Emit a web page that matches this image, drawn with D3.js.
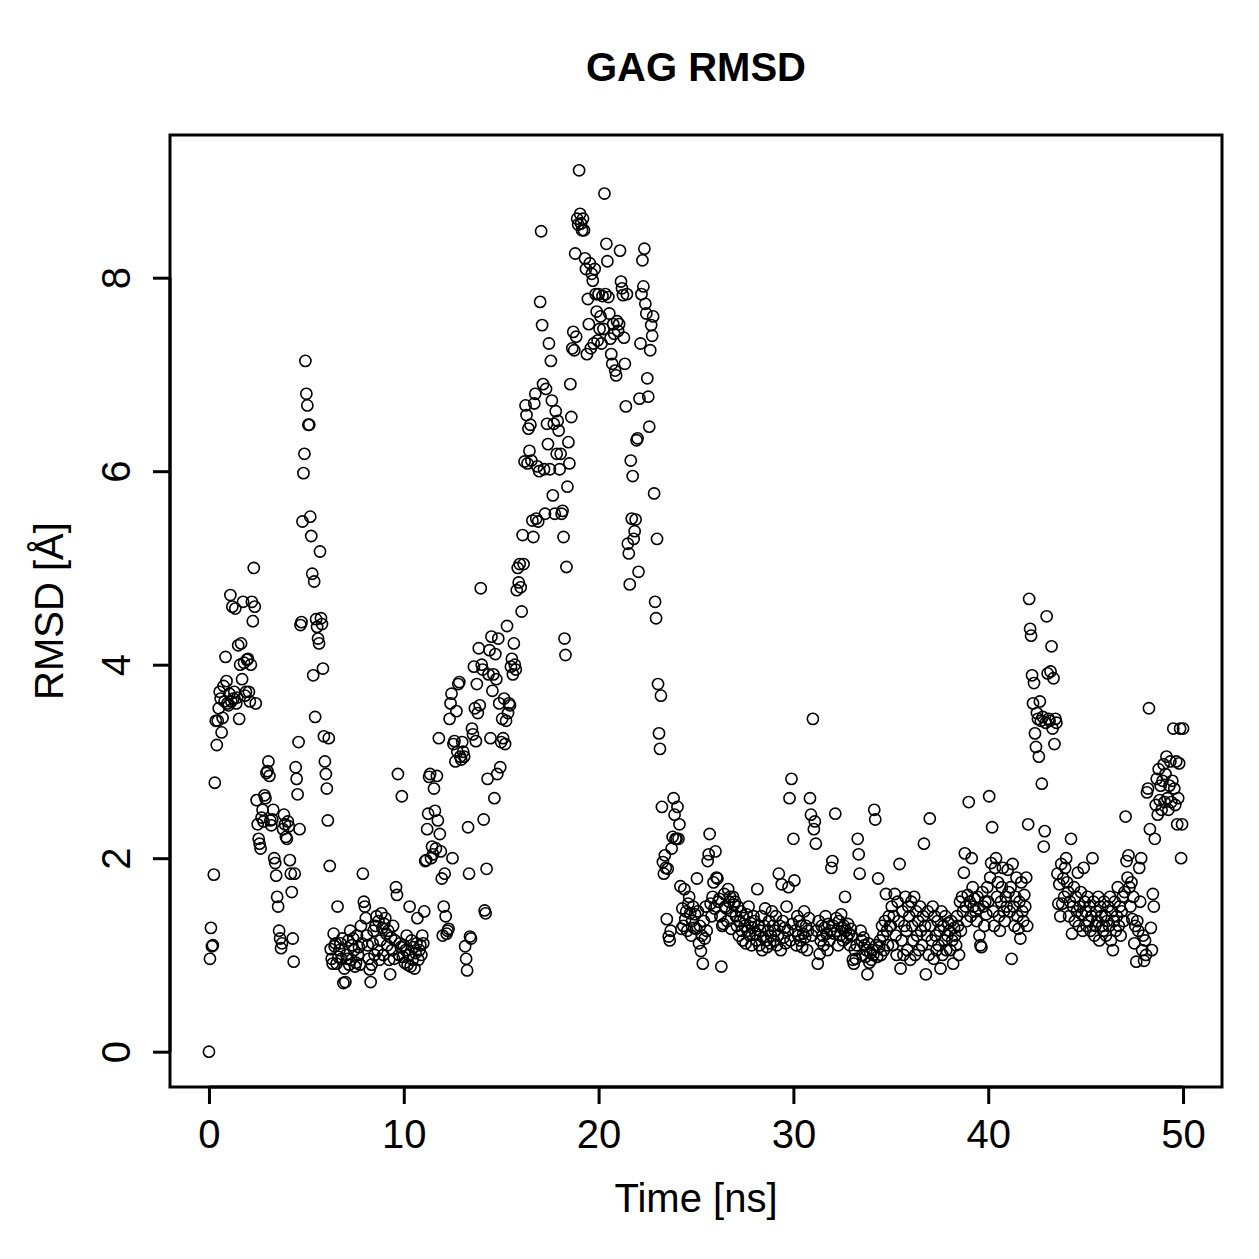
<!doctype html><html><head><meta charset="utf-8"></head><body style="margin:0;background:#fff"><script src='https://d3js.org/d3.v7.min.js'></script>

<style>
	svg text {
		fill: black;
		font-family: "Liberation Sans", Arial, sans-serif;
	}
</style>

<script>
  var timeStep = 0.05;
  var rmsd = [
    0, 0.96, 1.28, 1.09, 1.1, 1.83, 2.78, 3.42, 3.17, 3.42, 3.55, 3.72, 3.65, 3.3, 3.45, 3.78, 3.62, 4.08, 3.83, 3.6,
    3.58, 3.7, 4.72, 3.62, 4.6, 3.65, 3.72, 4.58, 3.6, 3.66, 4.2, 3.44, 4.0, 4.22, 3.85, 4.65, 4.02, 3.68, 3.72, 4.05,
    4.06, 3.72, 3.62, 4.0, 4.65, 4.45, 5.0, 4.6, 3.6, 2.6, 2.35, 2.2, 2.15, 2.1, 2.42, 2.5, 2.38, 2.65, 2.62, 2.88,
    2.9, 3.0, 2.85, 2.39, 2.34, 2.4, 2.5, 2.0, 1.95, 1.82, 1.6, 1.5, 1.25, 1.17, 1.07, 1.12, 2.3, 2.45, 2.35, 2.22,
    2.2, 2.38, 2.33, 1.98, 1.84, 1.65, 1.17, 0.93, 1.84, 2.94, 2.82, 2.66, 3.2, 2.3, 4.41, 4.44, 5.48, 5.98, 6.18, 7.14,
    6.8, 6.68, 6.48, 6.48, 5.53, 5.33, 4.94, 3.89, 4.86, 3.46, 4.47, 4.39, 4.27, 4.22, 5.17, 4.48, 4.42, 3.96, 3.26, 3.0,
    2.87, 2.72, 2.39, 3.24, 1.92, 1.06, 0.96, 0.91, 1.22, 1.09, 1.12, 0.91, 1.5, 0.98, 1.05, 1.12, 0.96, 1.17, 0.71, 0.86,
    0.72, 1.0, 0.96, 1.15, 0.9, 1.25, 0.95, 1.1, 1.17, 1.05, 0.88, 0.92, 1.2, 1.0, 1.08, 0.9, 1.3, 1.12, 1.84, 1.55,
    1.5, 1.38, 1.2, 1.1, 0.96, 0.85, 0.72, 0.9, 1.12, 1.25, 1.0, 1.3, 1.4, 1.05, 1.35, 0.95, 1.15, 1.43, 1.28, 1.0,
    1.32, 1.38, 1.22, 1.1, 1.25, 0.95, 0.8, 1.18, 1.05, 1.3, 0.96, 1.15, 1.7, 1.62, 2.87, 1.0, 1.12, 1.08, 2.64, 0.98,
    1.1, 0.92, 1.05, 1.2, 0.9, 1.0, 1.5, 0.88, 1.15, 0.95, 1.08, 0.86, 1.02, 1.12, 1.38, 0.95, 1.05, 1.1, 1.0, 1.2,
    1.12, 1.45, 1.97, 1.98, 2.3, 2.46, 2.84, 2.87, 2.0, 2.12, 2.04, 2.72, 2.49, 2.1, 2.85, 2.39, 3.24, 2.25, 2.07, 1.79,
    1.2, 1.5, 1.84, 1.4, 1.22, 1.25, 1.27, 3.44, 3.6, 3.7, 2.0, 3.18, 3.21, 3.0, 3.52, 3.1, 3.8, 3.82, 3.05, 3.02,
    3.2, 3.1, 3.05, 1.09, 0.96, 0.84, 2.32, 1.84, 1.19, 1.17, 3.34, 3.28, 3.98, 3.55, 3.21, 3.8, 3.5, 4.17, 3.58, 4.79,
    4.0, 3.95, 2.4, 1.46, 1.43, 1.89, 2.82, 3.9, 4.15, 3.24, 4.29, 3.73, 3.9, 2.62, 4.11, 3.85, 2.87, 4.27, 3.6, 2.94,
    3.2, 3.44, 3.24, 3.65, 3.18, 3.42, 4.4, 3.5, 3.6, 3.58, 3.98, 4.06, 3.9, 4.22, 4.0, 3.95, 4.77, 5.0, 4.85, 5.04,
    4.8, 4.55, 5.34, 5.04, 6.1, 6.68, 6.58, 6.08, 6.44, 6.21, 6.48, 6.11, 5.49, 5.32, 6.7, 6.8, 5.51, 6.05, 5.48, 6.0,
    7.75, 8.48, 7.51, 6.9, 6.02, 5.56, 6.85, 6.49, 6.28, 7.32, 6.02, 7.14, 6.73, 5.75, 6.49, 5.56, 6.62, 6.18, 6.52, 6.42,
    6.02, 6.18, 5.56, 5.59, 5.32, 4.27, 4.1, 5.01, 5.84, 6.3, 6.08, 6.9, 6.56, 7.27, 7.44, 7.25, 8.25, 7.39, 8.61, 8.55,
    9.11, 8.66, 8.56, 8.49, 8.61, 8.49, 8.2, 8.09, 7.21, 7.78, 7.52, 8.15, 7.27, 8.04, 7.97, 7.32, 8.09, 7.83, 7.65, 7.35,
    7.83, 7.47, 7.6, 7.32, 7.81, 7.47, 8.87, 7.83, 8.35, 8.17, 7.8, 7.63, 7.37, 7.21, 7.11, 7.52, 7.42, 7.04, 6.99, 7.55,
    7.45, 7.52, 8.28, 7.96, 7.89, 7.82, 7.38, 7.11, 6.67, 7.83, 5.25, 5.15, 4.83, 6.11, 5.51, 5.95, 5.3, 5.38, 5.5, 6.32,
    6.34, 4.96, 6.75, 7.32, 7.83, 8.18, 7.91, 8.3, 7.73, 7.63, 6.96, 6.77, 6.46, 7.25, 7.51, 7.4, 7.6, 5.77, 4.65, 4.48,
    5.3, 3.8, 3.29, 3.13, 3.68, 2.53, 1.96, 1.84, 2.03, 1.9, 1.37, 1.89, 1.19, 1.15, 1.25, 2.1, 2.22, 2.62, 2.45, 2.2,
    2.2, 2.53, 2.2, 2.35, 1.71, 1.27, 1.48, 1.3, 1.68, 1.37, 1.45, 1.25, 1.53, 1.6, 1.43, 1.2, 1.35, 1.5, 1.28, 1.42,
    1.27, 1.79, 1.45, 1.12, 1.3, 1.04, 1.2, 0.91, 1.35, 1.17, 1.5, 1.25, 1.97, 2.04, 2.25, 1.53, 1.4, 1.6, 1.75, 1.48,
    2.07, 1.8, 1.79, 1.55, 1.58, 1.4, 0.88, 1.3, 1.32, 1.63, 1.5, 1.48, 1.35, 1.68, 1.55, 1.6, 1.27, 1.45, 1.6, 1.52,
    1.55, 1.4, 1.3, 1.5, 1.2, 1.35, 1.45, 1.25, 1.15, 1.38, 1.3, 1.12, 1.42, 1.25, 1.5, 1.2, 1.33, 1.1, 1.28, 1.4,
    1.35, 1.22, 1.15, 1.68, 1.3, 1.1, 1.25, 1.4, 1.05, 1.18, 1.3, 1.48, 1.15, 1.08, 1.25, 1.35, 1.12, 1.2, 1.45, 1.3,
    1.15, 1.25, 1.4, 1.1, 1.2, 1.84, 1.3, 1.05, 1.73, 1.35, 1.18, 1.28, 1.12, 1.5, 1.25, 1.7, 2.62, 1.15, 2.82, 1.32,
    2.2, 1.77, 1.25, 1.1, 1.4, 1.2, 1.35, 1.15, 1.3, 1.08, 1.22, 1.45, 1.18, 1.3, 1.05, 1.25, 1.38, 2.62, 2.45, 1.2,
    3.44, 2.3, 2.38, 2.15, 1.25, 0.91, 1.35, 1.01, 1.15, 1.3, 1.2, 1.1, 1.28, 1.4, 1.22, 1.05, 1.32, 1.15, 1.25, 1.9,
    1.97, 1.3, 1.22, 2.46, 1.38, 1.25, 1.1, 1.35, 1.2, 1.42, 1.28, 1.15, 1.3, 1.6, 1.25, 1.18, 1.32, 1.22, 1.1, 1.27,
    1.2, 0.95, 0.91, 1.05, 0.96, 1.1, 2.2, 2.04, 1.84, 1.25, 1.15, 1.0, 1.18, 1.1, 0.98, 1.05, 0.8, 1.12, 0.92, 1.02,
    0.95, 1.05, 1.0, 2.5, 2.4, 1.1, 0.98, 1.79, 1.08, 1.15, 1.0, 1.3, 1.2, 1.05, 1.35, 1.63, 1.25, 1.1, 1.4, 1.3,
    1.3, 1.5, 1.1, 1.4, 1.63, 1.2, 1.0, 1.55, 1.35, 1.94, 0.86, 1.15, 1.45, 1.0, 1.3, 1.6, 1.25, 1.05, 1.5, 1.4,
    0.95, 1.55, 1.3, 1.15, 1.6, 1.0, 1.45, 1.2, 1.35, 1.05, 1.5, 1.25, 1.1, 1.4, 2.15, 1.3, 0.8, 1.2, 1.45, 1.0,
    2.41, 1.3, 1.15, 1.5, 0.96, 1.4, 1.2, 1.05, 1.35, 1.1, 1.25, 0.86, 1.45, 1.0, 1.3, 1.15, 1.4, 1.05, 1.2, 1.33,
    1.25, 1.05, 1.35, 1.15, 0.91, 1.28, 1.2, 1.1, 1.4, 1.3, 1.0, 1.55, 1.25, 1.6, 1.45, 1.85, 2.05, 1.5, 1.35, 1.62,
    2.58, 1.55, 1.4, 2.0, 1.7, 1.5, 1.58, 1.45, 1.35, 1.6, 1.48, 1.2, 1.1, 1.08, 1.65, 1.5, 1.3, 1.55, 1.42, 1.7,
    1.55, 2.64, 1.8, 1.95, 2.32, 1.45, 1.3, 1.9, 2.0, 1.6, 1.75, 1.4, 1.25, 1.55, 1.7, 1.9, 1.45, 1.35, 1.6, 1.5,
    1.88, 1.65, 1.45, 1.7, 0.96, 1.94, 1.5, 1.3, 1.6, 1.8, 1.4, 1.27, 1.55, 1.17, 1.75, 1.45, 1.35, 1.62, 1.5, 1.8,
    1.3, 2.35, 4.68, 4.37, 4.3, 3.89, 3.6, 3.81, 3.29, 3.15, 3.5, 3.44, 3.05, 3.62, 3.42, 2.77, 3.46, 2.12, 2.28, 3.4,
    4.5, 3.91, 3.44, 3.42, 3.93, 4.19, 3.34, 3.86, 3.18, 3.44, 3.4, 1.84, 1.53, 1.73, 1.4, 1.94, 1.53, 1.79, 1.6, 1.9,
    2.0, 1.75, 1.65, 1.4, 1.55, 2.2, 1.22, 1.5, 1.7, 1.35, 1.6, 1.45, 1.85, 1.3, 1.5, 1.65, 1.42, 1.25, 1.9, 1.55,
    1.45, 1.3, 1.6, 1.35, 1.5, 1.25, 1.4, 2.0, 1.55, 1.2, 1.3, 1.45, 1.35, 1.6, 1.15, 1.5, 1.4, 1.3, 1.25, 1.55,
    1.4, 1.2, 1.35, 1.5, 1.3, 1.6, 1.15, 1.45, 1.05, 1.35, 1.55, 1.25, 1.4, 1.7, 1.3, 1.5, 1.2, 1.45, 1.6, 1.35,
    1.65, 2.43, 1.97, 1.8, 2.03, 1.7, 1.5, 1.75, 1.37, 1.6, 1.12, 1.3, 0.93, 1.35, 1.25, 1.9, 1.55, 2.0, 1.05, 1.2,
    0.94, 1.15, 1.0, 2.68, 2.72, 3.55, 2.3, 1.28, 1.05, 1.63, 1.5, 2.2, 2.55, 2.82, 2.45, 2.92, 2.6, 2.75, 2.5, 2.8,
    2.97, 2.58, 2.87, 3.05, 2.62, 2.5, 2.75, 3.0, 2.58, 2.8, 3.34, 2.72, 2.55, 3.0, 2.35, 2.62, 2.98, 3.34, 2.0, 2.35,
    3.34
  ];
  var xTicks = [0, 10, 20, 30, 40, 50];
  var yTicks = [0, 2, 4, 6, 8];

  var width = 1259, height = 1259;
  var box = {left: 170, right: 1222, top: 135, bottom: 1087};
  var fontSize = "40px";

  var svg = d3.select("body")
    .append("svg")
    .attr("width", width)
    .attr("height", height);

  var x = d3.scaleLinear().domain([-2, 52]).range([box.left, box.right]);
  var y = d3.scaleLinear().domain([-0.365, 9.475]).range([box.bottom, box.top]);

  // points
  svg.append("g")
    .selectAll("circle")
    .data(rmsd)
    .enter()
    .append("circle")
    .attr("cx", function(d, i) { return x(i * timeStep); })
    .attr("cy", function(d) { return y(d); })
    .attr("r", 5.6)
    .attr("fill", "none")
    .attr("stroke", "black")
    .attr("stroke-width", 1.6);

  // box
  svg.append("rect")
    .attr("x", box.left)
    .attr("y", box.top)
    .attr("width", box.right - box.left)
    .attr("height", box.bottom - box.top)
    .attr("fill", "none")
    .attr("stroke", "black")
    .attr("stroke-width", 3);

  // axes
  var xAxis = svg.append("g")
    .attr("transform", "translate(0," + box.bottom + ")")
    .call(d3.axisBottom(x).tickValues(xTicks).tickSize(17).tickSizeOuter(0));
  var yAxis = svg.append("g")
    .attr("transform", "translate(" + box.left + ",0)")
    .call(d3.axisLeft(y).tickValues(yTicks).tickSize(17).tickSizeOuter(0));

  [xAxis, yAxis].forEach(function(a) {
    a.select(".domain").attr("stroke-width", 3);
    a.selectAll(".tick line").attr("stroke-width", 3);
    a.selectAll("text").style("font-size", fontSize).attr("fill", "black");
  });
  // R axis line only spans the ticks
  xAxis.select(".domain").attr("d", "M" + x(0) + ",0H" + x(50));
  yAxis.select(".domain").attr("d", "M0," + y(0) + "V" + y(8));

  xAxis.selectAll(".tick text").attr("y", 61).attr("dy", 0);

  // y tick labels rotated like R's default las=0
  yAxis.selectAll(".tick text")
    .attr("x", 0).attr("dy", 0)
    .attr("transform", "translate(-40,0) rotate(-90)")
    .attr("text-anchor", "middle");

  svg.append("text")
    .attr("x", (box.left + box.right) / 2)
    .attr("y", 81)
    .attr("text-anchor", "middle")
    .style("font-size", fontSize)
    .style("font-weight", "bold")
    .text("GAG RMSD");

  svg.append("text")
    .attr("x", (box.left + box.right) / 2)
    .attr("y", 1212)
    .attr("text-anchor", "middle")
    .style("font-size", fontSize)
    .text("Time [ns]");

  svg.append("text")
    .attr("transform", "translate(63," + (box.top + box.bottom) / 2 + ") rotate(-90)")
    .attr("text-anchor", "middle")
    .style("font-size", fontSize)
    .text("RMSD [Å]");
</script></body></html>
